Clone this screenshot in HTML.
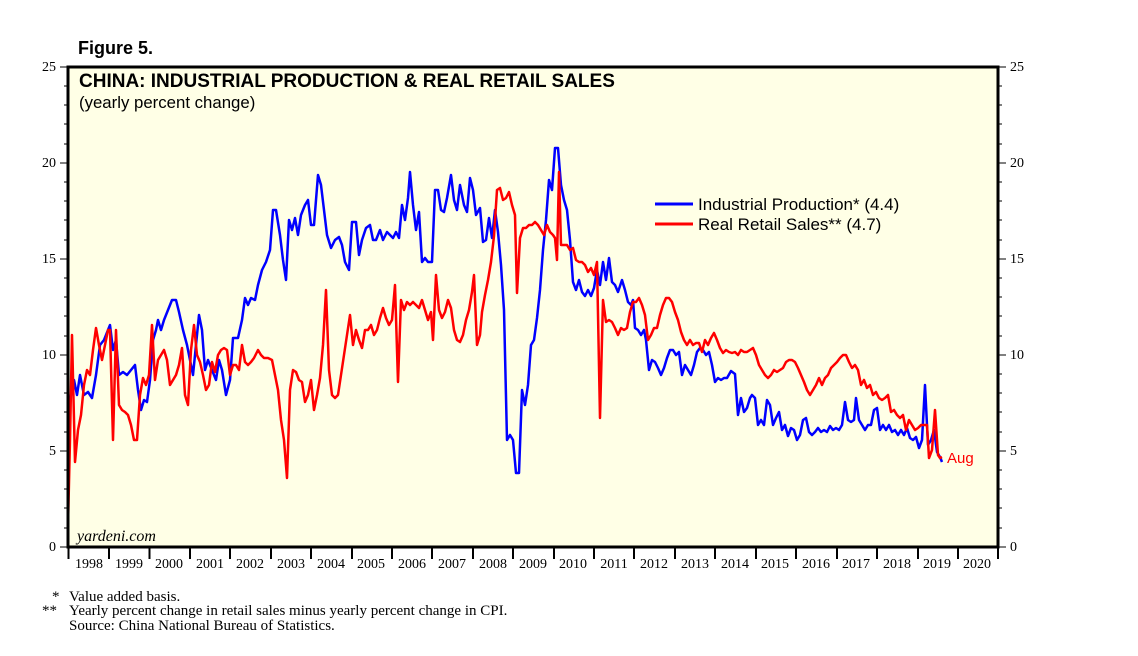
<!DOCTYPE html>
<html><head><meta charset="utf-8"><style>
body{margin:0;background:#fff;}
svg{display:block;font-family:"Liberation Sans",sans-serif;}
.s{font-family:"Liberation Serif",serif;}
</style></head><body>
<svg width="1138" height="656" viewBox="0 0 1138 656">
<rect x="68" y="67" width="930" height="480" fill="#ffffe6"/>
<text x="78" y="54" font-size="18" font-weight="bold">Figure 5.</text>
<g stroke="#000" stroke-width="1">
<line x1="60" y1="67" x2="68" y2="67"/><line x1="60" y1="163" x2="68" y2="163"/><line x1="60" y1="259" x2="68" y2="259"/><line x1="60" y1="355" x2="68" y2="355"/><line x1="60" y1="451" x2="68" y2="451"/><line x1="60" y1="547" x2="68" y2="547"/>
<line x1="998" y1="67" x2="1006" y2="67"/><line x1="998" y1="163" x2="1006" y2="163"/><line x1="998" y1="259" x2="1006" y2="259"/><line x1="998" y1="355" x2="1006" y2="355"/><line x1="998" y1="451" x2="1006" y2="451"/><line x1="998" y1="547" x2="1006" y2="547"/>
<path d="M64 86H68M64 105H68M64 124H68M64 144H68M64 182H68M64 201H68M64 220H68M64 240H68M64 278H68M64 297H68M64 316H68M64 336H68M64 374H68M64 393H68M64 412H68M64 432H68M64 470H68M64 489H68M64 508H68M64 528H68"/>
<path d="M998 86H1002M998 105H1002M998 124H1002M998 144H1002M998 182H1002M998 201H1002M998 220H1002M998 240H1002M998 278H1002M998 297H1002M998 316H1002M998 336H1002M998 374H1002M998 393H1002M998 412H1002M998 432H1002M998 470H1002M998 489H1002M998 508H1002M998 528H1002"/>
</g>
<g class="s" font-size="14" text-anchor="end">
<text x="56" y="71">25</text><text x="56" y="167">20</text><text x="56" y="263">15</text><text x="56" y="359">10</text><text x="56" y="455">5</text><text x="56" y="551">0</text>
</g>
<g class="s" font-size="14">
<text x="1010" y="71">25</text><text x="1010" y="167">20</text><text x="1010" y="263">15</text><text x="1010" y="359">10</text><text x="1010" y="455">5</text><text x="1010" y="551">0</text>
</g>
<g stroke="#000" stroke-width="2">
<path d="M68.5 547V559M109 547V559M149.5 547V559M190 547V559M230 547V559M271 547V559M311 547V559M352 547V559M392 547V559M432 547V559M473 547V559M513 547V559M554 547V559M594 547V559M634 547V559M675 547V559M715 547V559M756 547V559M796 547V559M837 547V559M877 547V559M918 547V559M958 547V559M998 547V559"/>
</g>
<g class="s" font-size="14" text-anchor="middle">
<text x="89" y="568">1998</text><text x="129" y="568">1999</text><text x="169" y="568">2000</text><text x="210" y="568">2001</text><text x="250" y="568">2002</text><text x="291" y="568">2003</text><text x="331" y="568">2004</text><text x="371" y="568">2005</text><text x="412" y="568">2006</text><text x="452" y="568">2007</text><text x="493" y="568">2008</text><text x="533" y="568">2009</text><text x="573" y="568">2010</text><text x="614" y="568">2011</text><text x="654" y="568">2012</text><text x="695" y="568">2013</text><text x="735" y="568">2014</text><text x="775" y="568">2015</text><text x="816" y="568">2016</text><text x="856" y="568">2017</text><text x="897" y="568">2018</text><text x="937" y="568">2019</text><text x="977" y="568">2020</text>
</g>
<text x="79" y="87" font-size="19" font-weight="bold">CHINA: INDUSTRIAL PRODUCTION &amp; REAL RETAIL SALES</text>
<text x="79" y="108" font-size="16.8">(yearly percent change)</text>
<text x="77" y="541" class="s" font-size="16" font-style="italic">yardeni.com</text>
<polyline fill="none" stroke="#0000ff" stroke-width="2.5" stroke-linejoin="round" points="70,400 74,380 77,395 80,375 84,395 88,392 92,398 96,375 100,345 104,340 108,330 110,325 113,350 116,340 119,375 123,372 127,375 131,370 135,365 138,390 141,410 144,400 147,402 150,380 153,340 156,330 158,320 161,330 164,320 168,310 172,300 176,300 179,312 183,330 187,345 190,360 193,375 196,345 199,315 202,330 205,370 208,360 212,370 216,380 219,360 222,370 226,395 230,380 233,338 238,338 242,320 245,298 248,305 251,298 255,300 258,285 262,270 266,262 270,250 273,210 276,210 280,235 283,260 286,280 289,220 292,230 295,218 298,235 301,215 305,205 308,200 311,225 314,225 318,175 321,185 324,210 327,235 331,248 335,240 339,237 342,245 345,262 349,270 352,222 356,222 359,255 362,240 366,228 370,225 373,240 376,240 380,230 383,240 387,232 390,235 393,238 396,232 399,238 402,205 405,220 408,198 410,172 413,205 416,230 419,212 422,262 425,258 428,262 432,262 435,190 438,190 441,210 444,212 447,198 451,175 454,200 457,210 460,185 464,205 467,212 470,178 473,190 476,215 480,208 483,242 486,240 489,218 492,238 495,210 498,232 501,265 504,310 507,440 510,435 513,440 516,473 519,473 522,390 525,405 528,385 531,345 534,340 537,318 540,290 543,250 546,220 549,180 552,190 555,148 558,148 561,185 564,200 567,210 570,240 573,282 576,290 579,280 582,292 585,296 588,290 591,296 594,288 597,270 600,285 603,262 606,280 609,258 612,282 615,285 618,292 622,280 625,290 628,302 631,305 633,300 635,328 638,330 641,335 644,330 646,340 649,370 652,360 655,362 658,368 661,375 664,368 667,358 670,350 673,350 676,355 679,352 682,375 685,365 688,370 691,375 694,365 697,352 700,348 703,350 706,355 709,352 712,365 715,382 718,378 721,380 724,378 727,378 731,371 735,374 738,415 741,398 744,412 747,408 750,398 752,395 755,398 758,425 761,420 764,425 767,400 770,405 773,425 776,418 779,412 782,430 785,425 788,436 791,428 794,430 797,440 800,435 803,420 806,418 809,432 812,435 815,432 818,428 821,432 824,430 827,432 830,426 833,430 836,428 839,430 842,425 845,402 848,420 851,422 854,420 856,398 859,420 862,425 865,430 868,425 871,425 874,410 877,408 880,430 883,425 886,430 889,425 892,432 895,430 898,435 901,430 904,435 907,428 910,438 913,440 916,437 919,448 922,440 925,385 928,445 931,440 934,430 937,452 940,457 942,462"/>
<polyline fill="none" stroke="#ff0000" stroke-width="2.5" stroke-linejoin="round" points="68,525 70,440 72,335 75,462 78,430 81,415 84,385 87,370 90,375 93,350 96,328 99,345 102,360 105,345 108,330 110,330 113,440 116,330 119,405 122,410 125,412 128,415 131,425 134,440 137,440 140,395 143,378 146,385 149,375 152,325 155,380 158,360 161,355 164,350 167,360 170,385 173,380 176,375 179,365 182,348 185,395 188,405 191,350 194,325 197,355 200,362 203,375 206,390 209,385 212,362 215,372 218,355 221,350 224,348 227,350 230,375 233,365 236,365 239,370 242,345 245,362 248,365 251,362 254,358 258,350 261,355 264,358 268,358 272,360 275,375 278,390 281,420 284,440 287,478 290,390 293,370 296,372 299,380 302,382 305,402 308,395 311,380 314,410 317,395 320,378 323,345 326,290 329,370 332,395 335,398 338,395 341,375 344,355 347,335 350,315 353,345 356,330 359,340 362,348 365,330 368,330 371,325 374,335 377,330 380,318 383,308 386,318 389,325 392,320 395,285 398,382 401,300 404,310 407,302 410,305 413,302 416,305 419,308 422,300 425,310 428,320 431,312 433,340 436,275 439,310 442,318 445,312 448,300 451,308 454,330 457,340 460,342 463,335 466,320 469,310 472,292 474,275 477,345 480,335 482,312 485,295 488,280 491,262 494,236 497,190 500,188 503,200 506,198 509,192 512,205 515,215 517,293 520,238 523,228 526,228 529,225 532,225 535,222 538,225 541,230 544,235 547,225 550,232 553,235 555,238 557,260 559,172 561,245 564,245 567,245 570,250 573,248 576,260 579,262 582,262 585,265 588,272 591,268 594,275 597,262 600,418 603,300 606,322 609,320 612,322 615,328 618,335 621,328 624,330 627,328 630,312 633,302 636,302 639,298 642,305 645,315 648,340 651,335 654,328 657,328 660,315 663,305 666,298 669,298 672,302 675,312 678,320 681,332 684,340 687,345 690,340 693,345 696,343 699,343 702,352 705,340 708,345 711,338 714,333 717,340 720,348 723,353 726,350 729,352 732,353 735,352 738,355 741,350 744,352 747,352 750,350 753,348 756,355 759,365 762,370 765,375 768,378 771,375 774,370 777,372 780,370 783,368 786,362 789,360 792,360 795,362 798,368 801,375 804,382 807,390 810,395 813,390 816,385 819,378 822,385 825,378 828,375 831,368 834,365 837,362 840,358 843,355 846,355 849,362 852,368 855,365 858,370 861,385 864,380 867,388 870,385 873,395 876,392 879,398 882,400 885,398 888,395 891,412 894,410 897,415 900,418 903,415 906,430 909,420 912,425 915,430 918,428 921,425 924,425 927,425 929,458 932,450 935,410 938,455 940,458 942,457"/>
<text x="947" y="463" font-size="15" fill="#ff0000">Aug</text>
<line x1="655" y1="204" x2="693" y2="204" stroke="#0000ff" stroke-width="3"/>
<text x="698" y="210" font-size="17">Industrial Production* (4.4)</text>
<line x1="655" y1="224" x2="693" y2="224" stroke="#ff0000" stroke-width="3"/>
<text x="698" y="230" font-size="17">Real Retail Sales** (4.7)</text>
<rect x="68" y="67" width="930" height="480" fill="none" stroke="#000" stroke-width="3"/>
<g class="s" font-size="15">
<text x="52" y="601">*</text><text x="69" y="601">Value added basis.</text>
<text x="42" y="615">**</text><text x="69" y="615">Yearly percent change in retail sales minus yearly percent change in CPI.</text>
<text x="69" y="630">Source: China National Bureau of Statistics.</text>
</g>
</svg>
</body></html>
